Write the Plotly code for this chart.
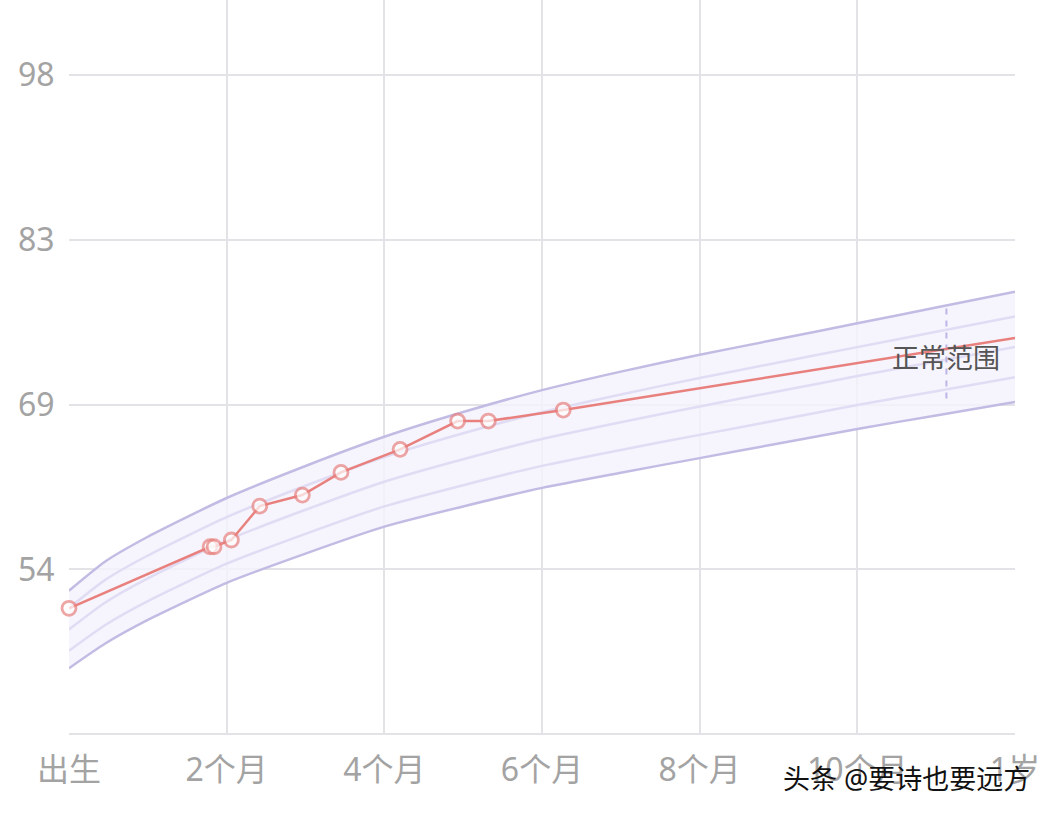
import plotly.graph_objects as go

# Reference curve months
ref_months = [0, 0.46, 1, 2, 3, 4, 5, 6, 7, 8, 9, 10, 11, 12]
ref_plus2 = [52.1, 54.7, 56.9, 60.35, 63.2, 65.8, 68.0, 69.95, 71.6, 73.1, 74.5, 75.9, 77.3, 78.7]
ref_plus1 = [50.55, 53.06, 55.23, 58.65, 61.44, 64.0, 66.11, 67.99, 69.57, 71.03, 72.41, 73.78, 75.14, 76.5]
ref_median = [48.65, 51.05, 53.2, 56.58, 59.3, 61.8, 63.8, 65.6, 67.1, 68.5, 69.85, 71.2, 72.5, 73.8]
ref_minus1 = [46.75, 49.04, 51.17, 54.5, 57.16, 59.6, 61.49, 63.21, 64.63, 65.97, 67.29, 68.62, 69.86, 71.1]
ref_minus2 = [45.2, 47.4, 49.5, 52.8, 55.4, 57.8, 59.6, 61.25, 62.6, 63.9, 65.2, 66.5, 67.7, 68.9]

# Measured child's height
child_months = [0, 1.79, 1.84, 2.06, 2.42, 2.96, 3.45, 4.2, 4.93, 5.32, 6.27, 12]
child_height = [50.53, 56.01, 56.01, 56.61, 59.63, 60.61, 62.63, 64.68, 67.2, 67.2, 68.18, 74.59]
child_marker = [True, True, True, True, True, True, True, True, True, True, True, False]

x_tickvals = [0, 2, 4, 6, 8, 10, 12]
x_ticktext = ["出生", "2个月", "4个月", "6个月", "8个月", "10个月", "1岁"]
y_tickvals = [54, 68.667, 83.333, 98]
y_ticktext = ["54", "69", "83", "98"]

normal_label = "正常范围"
normal_x = 11.13
normal_range = [69.2, 77.5]
watermark = "头条 @要诗也要远方"

OUTER = "#c2bce4"
INNER = "#e0dcf4"
FILL = "rgba(244,241,253,0.8)"
RED = "#e8817e"
FONT = "Noto Sans, Noto Sans CJK SC, sans-serif"

fig = go.Figure()

curve_line = dict(shape="spline", smoothing=0.6)

fig.add_trace(go.Scatter(x=ref_months, y=ref_minus2, mode="lines",
                         line=dict(color=OUTER, width=2.5, **curve_line),
                         hoverinfo="skip", showlegend=False))
fig.add_trace(go.Scatter(x=ref_months, y=ref_plus2, mode="lines", fill="tonexty",
                         fillcolor=FILL, line=dict(color=OUTER, width=2.5, **curve_line),
                         hoverinfo="skip", showlegend=False))
for ys in (ref_plus1, ref_median, ref_minus1):
    fig.add_trace(go.Scatter(x=ref_months, y=ys, mode="lines",
                             line=dict(color=INNER, width=2.5, **curve_line),
                             hoverinfo="skip", showlegend=False))

# dashed marker of normal range
fig.add_trace(go.Scatter(x=[normal_x, normal_x], y=normal_range, mode="lines",
                         line=dict(color="#bdb5e8", width=2, dash="6px,6px"),
                         hoverinfo="skip", showlegend=False))

fig.add_trace(go.Scatter(
    x=child_months, y=child_height, mode="lines+markers",
    line=dict(color=RED, width=2.5),
    marker=dict(size=[14 if m else 0 for m in child_marker], color="white",
                line=dict(color=RED, width=2.8)),
    cliponaxis=False, showlegend=False))

fig.add_annotation(x=normal_x, y=72.9, text=normal_label, showarrow=False,
                   font=dict(family=FONT, size=27, color="#555555"),
                   xanchor="center", yanchor="middle")

fig.add_annotation(xref="paper", yref="paper", x=1.018, y=-0.062, text=watermark,
                   showarrow=False, xanchor="right", yanchor="middle",
                   font=dict(family=FONT, size=27, color="#111111"))

fig.update_layout(
    width=1057, height=817,
    margin=dict(l=69, r=42, t=0, b=84),
    paper_bgcolor="white", plot_bgcolor="white",
    font=dict(family=FONT),
    xaxis=dict(range=[0, 12], tickvals=x_tickvals, ticktext=x_ticktext,
               showgrid=True, gridcolor="#e3e3e7", gridwidth=1.6,
               showline=True, linecolor="#e3e3e7", linewidth=2,
               zeroline=False, ticks="outside", ticklen=8, tickcolor="rgba(0,0,0,0)",
               tickfont=dict(family=FONT, size=32, color="#a3a3a3")),
    yaxis=dict(range=[39.43, 104.68], tickvals=y_tickvals, ticktext=y_ticktext,
               showgrid=True, gridcolor="#e3e3e7", gridwidth=1.6,
               showline=False, zeroline=False, ticks="outside", ticklen=7,
               tickcolor="rgba(0,0,0,0)",
               tickfont=dict(family=FONT, size=32, color="#a3a3a3")),
)

fig.write_html("out.html", config={"displayModeBar": False},
               post_script="document.body.style.margin='0px';document.body.style.padding='0px';")
